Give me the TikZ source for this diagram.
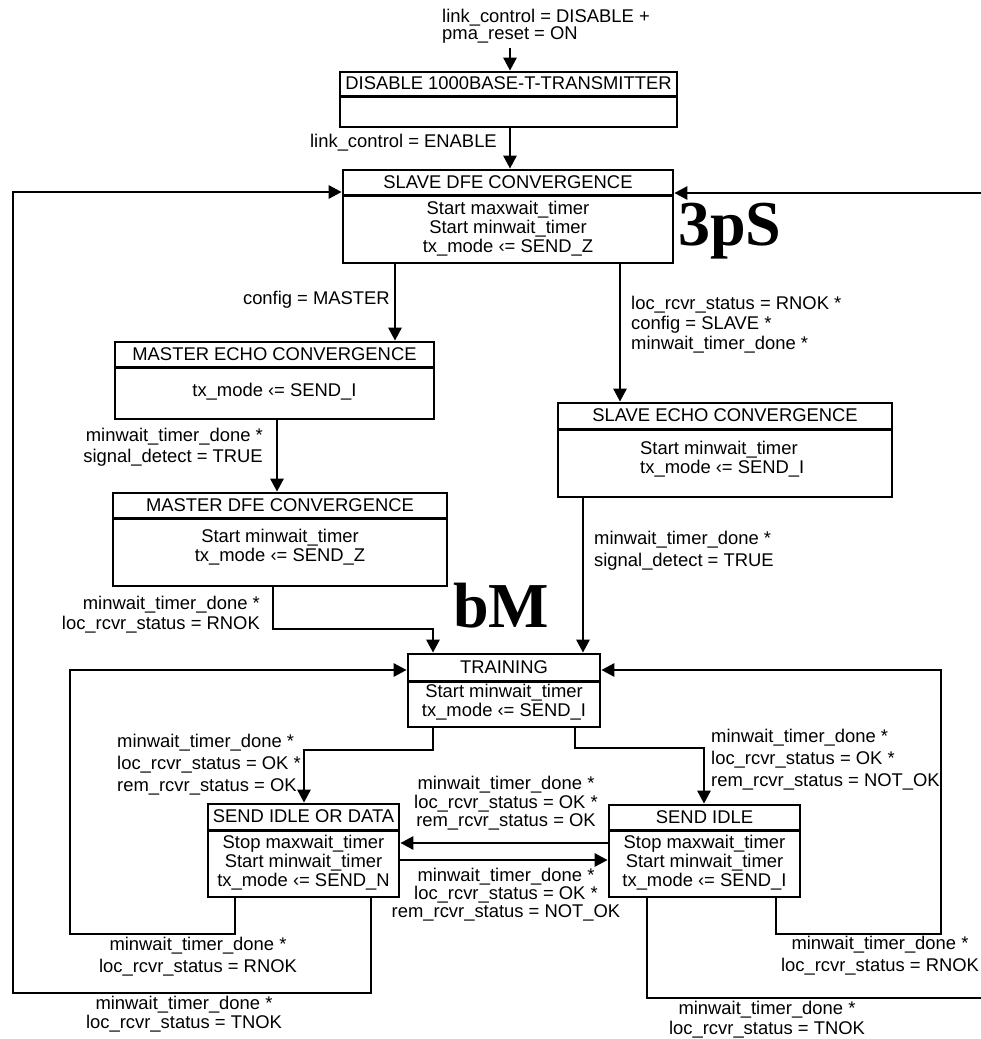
\documentclass[tikz,border=0pt]{standalone}
\usepackage{fontspec}
\setmainfont{Liberation Sans}
\newfontfamily\bigserif{Liberation Serif}
\usetikzlibrary{arrows.meta}

\begin{document}
\begin{tikzpicture}[x=1pt,y=-1pt,
  wire/.style={line width=2.7pt},
  arr/.style={wire,-{Triangle[length=13pt,width=13pt]}},
  box/.style={draw,line width=2.7pt,inner sep=0pt},
  ttl/.style={inner sep=0pt,font=\fontsize{18.4}{20}\selectfont},
  bdy/.style={inner sep=0pt,align=center,font=\fontsize{18.4}{19}\selectfont},
  cond/.style={inner sep=0pt,font=\fontsize{18.4}{#1}\selectfont},
  cond/.default=21,
  bigtag/.style={inner sep=0pt,anchor=base west,font=\bigserif\bfseries\fontsize{64}{64}\selectfont}]

\useasboundingbox (0,0) rectangle (981,1039);

% ---------- states ----------
\node[box,minimum width=337pt,minimum height=55pt] (dis) at (508.5,99.5) {};
\draw[wire] ([yshift=-26pt]dis.north west) -- ([yshift=-26pt]dis.north east);
\node[ttl] (dis-t) at ([yshift=-13pt]dis.north) {DISABLE 1000BASE-T-TRANSMITTER};

\node[box,minimum width=330pt,minimum height=93pt] (sdfe) at (508,216.5) {};
\draw[wire] ([yshift=-27pt]sdfe.north west) -- ([yshift=-27pt]sdfe.north east);
\node[ttl] (sdfe-t) at ([yshift=-13.5pt]sdfe.north) {SLAVE DFE CONVERGENCE};
\node[bdy] (sdfe-b) at ([yshift=-60pt]sdfe.north) {Start maxwait\_timer\\Start minwait\_timer\\tx\_mode ‹= SEND\_Z};

\node[box,minimum width=319pt,minimum height=77pt] (mec) at (274.5,380.5) {};
\draw[wire] ([yshift=-27pt]mec.north west) -- ([yshift=-27pt]mec.north east);
\node[ttl] (mec-t) at ([yshift=-13.5pt]mec.north) {MASTER ECHO CONVERGENCE};
\node[bdy] (mec-b) at ([yshift=-51pt]mec.north) {tx\_mode ‹= SEND\_I};

\node[box,minimum width=334pt,minimum height=93pt] (mdfe) at (280,539.5) {};
\draw[wire] ([yshift=-27pt]mdfe.north west) -- ([yshift=-27pt]mdfe.north east);
\node[ttl] (mdfe-t) at ([yshift=-13.5pt]mdfe.north) {MASTER DFE CONVERGENCE};
\node[bdy] (mdfe-b) at ([yshift=-55.5pt]mdfe.north) {Start minwait\_timer\\tx\_mode ‹= SEND\_Z};

\node[box,minimum width=334pt,minimum height=94pt] (sec) at (725,450) {};
\draw[wire] ([yshift=-28pt]sec.north west) -- ([yshift=-28pt]sec.north east);
\node[ttl] (sec-t) at ([yshift=-14pt]sec.north) {SLAVE ECHO CONVERGENCE};
\node[bdy,align=left,anchor=west] (sec-b) at ([xshift=-85pt,yshift=-58pt]sec.north) {Start minwait\_timer\\tx\_mode ‹= SEND\_I};

\node[box,minimum width=192pt,minimum height=73pt] (tr) at (504,690.5) {};
\draw[wire] ([yshift=-29pt]tr.north west) -- ([yshift=-29pt]tr.north east);
\node[ttl] (tr-t) at ([yshift=-14.5pt]tr.north) {TRAINING};
\node[bdy] (tr-b) at ([yshift=-49.5pt]tr.north) {Start minwait\_timer\\tx\_mode ‹= SEND\_I};

\node[box,minimum width=191pt,minimum height=93pt] (siod) at (303.5,850.5) {};
\draw[wire] ([yshift=-28pt]siod.north west) -- ([yshift=-28pt]siod.north east);
\node[ttl] (siod-t) at ([yshift=-14pt]siod.north) {SEND IDLE OR DATA};
\node[bdy] (siod-b) at ([yshift=-60pt]siod.north) {Stop maxwait\_timer\\Start minwait\_timer\\tx\_mode ‹= SEND\_N};

\node[box,minimum width=191pt,minimum height=92pt] (si) at (704.5,851) {};
\draw[wire] ([yshift=-27pt]si.north west) -- ([yshift=-27pt]si.north east);
\node[ttl] (si-t) at ([yshift=-13.5pt]si.north) {SEND IDLE};
\node[bdy] (si-b) at ([yshift=-59pt]si.north) {Stop maxwait\_timer\\Start minwait\_timer\\tx\_mode ‹= SEND\_I};

% ---------- transitions ----------
\coordinate (in0) at (510,48);
\draw[arr] (in0) -- (in0 |- dis.north);

\coordinate (c1) at ([xshift=1.5pt]dis.south);
\draw[arr] (c1) -- (c1 |- sdfe.north);

\coordinate (c2) at ([xshift=-113pt]sdfe.south);
\draw[arr] (c2) -- (c2 |- mec.north);

\coordinate (c3) at ([xshift=112pt]sdfe.south);
\draw[arr] (c3) -- (c3 |- sec.north);

\coordinate (c4) at ([xshift=2.5pt]mec.south);
\draw[arr] (c4) -- (c4 |- mdfe.north);

\coordinate (c5) at ([xshift=-7pt]mdfe.south);
\coordinate (k5) at (433,629);
\draw[arr] (c5) |- (k5) -- (k5 |- tr.north);

\coordinate (c6) at ([xshift=-142pt]sec.south);
\draw[arr] (c6) -- (c6 |- tr.north);

\coordinate (c7) at ([xshift=-71pt]tr.south);
\coordinate (k7) at (304,750);
\draw[arr] (c7) |- (k7) -- (k7 |- siod.north);

\coordinate (c8) at ([xshift=71pt]tr.south);
\coordinate (k8) at (704,748);
\draw[arr] (c8) |- (k8) -- (k8 |- si.north);

\coordinate (h1) at ([yshift=8pt]si.west);
\draw[arr] (h1) -- (h1 -| siod.east);
\coordinate (h2) at ([yshift=-9.5pt]siod.east);
\draw[arr] (h2) -- (h2 -| si.west);

\coordinate (l1) at ([xshift=-68.5pt]siod.south);
\coordinate (k9) at (70,934);
\coordinate (t1) at ([yshift=20.5pt]tr.west);
\draw[arr] (l1) |- (k9) |- (t1);

\coordinate (l2) at ([xshift=67.5pt]siod.south);
\coordinate (k10) at (13,993);
\coordinate (t2) at ([yshift=24.5pt]sdfe.west);
\draw[arr] (l2) |- (k10) |- (t2);

\coordinate (l3) at ([xshift=71.5pt]si.south);
\coordinate (k11) at (941,934);
\coordinate (t3) at ([yshift=20.5pt]tr.east);
\draw[arr] (l3) |- (k11) |- (t3);

\coordinate (l4) at ([xshift=-57.5pt]si.south);
\coordinate (k12) at (1000,998);
\coordinate (t4) at ([yshift=23.5pt]sdfe.east);
\draw[arr] (l4) |- (k12) |- (t4);

% ---------- transition conditions ----------
\node[cond=17,anchor=west,align=left] (g0) at (442,26.5) {link\_control = DISABLE +\\pma\_reset = ON};
\node[cond,anchor=east] (g1) at (497,143) {link\_control = ENABLE};
\node[cond,anchor=east] (g2) at (390,300) {config = MASTER};
\node[cond=20,anchor=west,align=left] (g3) at (631,325) {loc\_rcvr\_status = RNOK *\\config = SLAVE *\\minwait\_timer\_done *};
\node[cond=21,anchor=east,align=right] (g4) at (263,447.5) {minwait\_timer\_done *\\signal\_detect = TRUE};
\node[cond=22,anchor=west,align=left] (g5) at (594,551) {minwait\_timer\_done *\\signal\_detect = TRUE};
\node[cond=20,anchor=east,align=right] (g6) at (260,615) {minwait\_timer\_done *\\loc\_rcvr\_status = RNOK};
\node[cond=22,anchor=west,align=left] (g7) at (117,765) {minwait\_timer\_done *\\loc\_rcvr\_status = OK *\\rem\_rcvr\_status = OK};
\node[cond=22,anchor=west,align=left] (g8) at (711,760) {minwait\_timer\_done *\\loc\_rcvr\_status = OK *\\rem\_rcvr\_status = NOT\_OK};
\node[cond=18.5,align=center] (g9) at (506,803.5) {minwait\_timer\_done *\\loc\_rcvr\_status = OK *\\rem\_rcvr\_status = OK};
\node[cond=18,align=center] (g10) at (506,895) {minwait\_timer\_done *\\loc\_rcvr\_status = OK *\\rem\_rcvr\_status = NOT\_OK};
\node[cond=22,align=center] (g11) at (198,956.5) {minwait\_timer\_done *\\loc\_rcvr\_status = RNOK};
\node[cond=19,align=center] (g12) at (184,1014) {minwait\_timer\_done *\\loc\_rcvr\_status = TNOK};
\node[cond=22,align=center] (g13) at (880,956) {minwait\_timer\_done *\\loc\_rcvr\_status = RNOK};
\node[cond=20,align=center] (g14) at (767,1020) {minwait\_timer\_done *\\loc\_rcvr\_status = TNOK};

% ---------- large marks ----------
\node[bigtag] (m1) at (678,245) {3pS};
\node[bigtag] (m2) at (453,627) {bM};
\end{tikzpicture}
\end{document}
